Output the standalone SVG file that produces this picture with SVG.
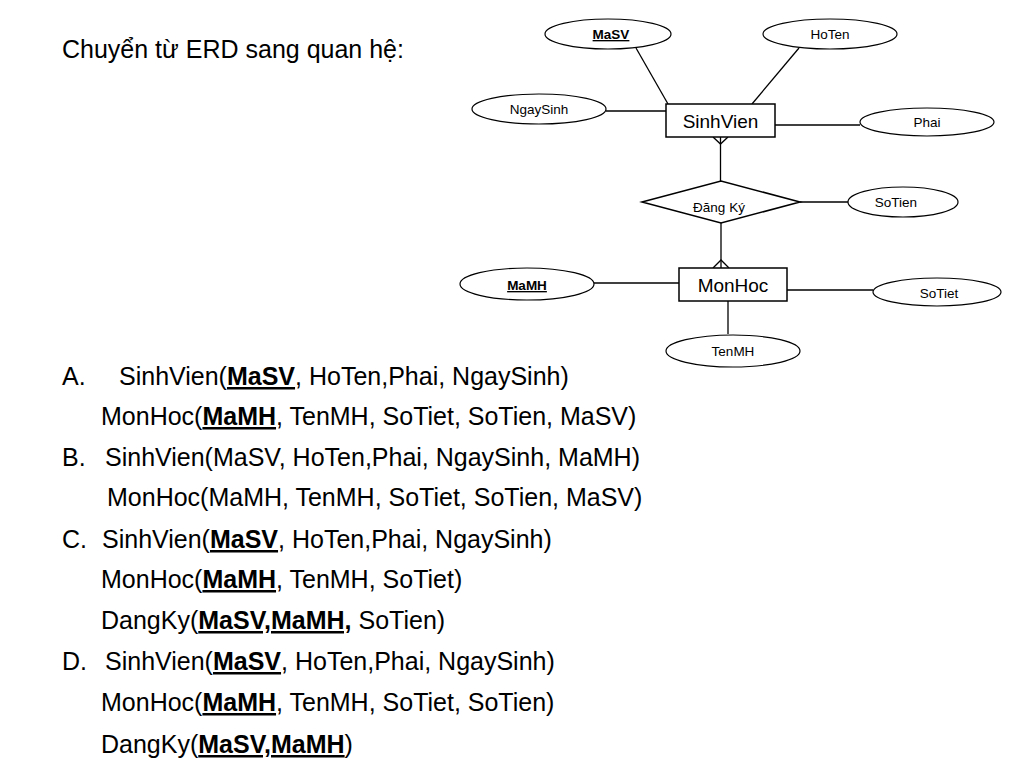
<svg xmlns="http://www.w3.org/2000/svg" width="1024" height="768" viewBox="0 0 1024 768">
<style>
.bg{fill:#fff}
.ln{stroke:#000;stroke-width:1.3;fill:none}
.ent{fill:#fff;stroke:#000;stroke-width:1.5}
.att{fill:#fff;stroke:#000;stroke-width:1.2}
.t{font-family:"Liberation Sans",Arial,sans-serif;fill:#000}
.big{font-size:25px}
.ent-t{font-size:19px;text-anchor:middle}
.att-t{font-size:13.5px;text-anchor:middle}
.key{font-weight:bold;text-decoration:underline}
</style>
<rect class="bg" width="1024" height="768"/>
<text class="t big" x="62" y="58">Chuyển từ ERD sang quan hệ:</text>

<g id="connectors">
<line class="ln" x1="636" y1="48" x2="668" y2="104"/>
<line class="ln" x1="799" y1="48" x2="752" y2="104"/>
<line class="ln" x1="606" y1="111" x2="666" y2="111"/>
<line class="ln" x1="775" y1="125" x2="860" y2="125"/>
<line class="ln" x1="720.5" y1="137" x2="720.5" y2="181"/>
<polyline class="ln" points="713,137 720.5,144 728,137"/>
<line class="ln" x1="800" y1="202" x2="848" y2="202"/>
<line class="ln" x1="721" y1="223" x2="721" y2="268"/>
<polyline class="ln" points="713,268 721,260 729,268"/>
<line class="ln" x1="594" y1="283" x2="679" y2="283"/>
<line class="ln" x1="787" y1="290" x2="873" y2="290"/>
<line class="ln" x1="728" y1="301" x2="728" y2="334"/>
</g>

<g id="SinhVien">
<rect class="ent" x="666" y="104" width="109" height="33"/>
<text class="t ent-t" x="720.5" y="128">SinhVien</text>
</g>
<g id="MonHoc">
<rect class="ent" x="679" y="268" width="108" height="33"/>
<text class="t ent-t" x="733" y="292">MonHoc</text>
</g>
<g id="DangKy">
<polygon class="ent" points="642,202 721,181 800,202 721,223"/>
<text class="t att-t" x="719" y="212">Đăng Ký</text>
</g>
<g id="MaSV">
<ellipse class="att" cx="608" cy="34" rx="63" ry="15"/>
<text class="t att-t key" x="611" y="39">MaSV</text>
</g>
<g id="HoTen">
<ellipse class="att" cx="830" cy="34" rx="67" ry="15"/>
<text class="t att-t" x="830" y="39">HoTen</text>
</g>
<g id="NgaySinh">
<ellipse class="att" cx="539" cy="109" rx="67" ry="15"/>
<text class="t att-t" x="539" y="114">NgaySinh</text>
</g>
<g id="Phai">
<ellipse class="att" cx="927" cy="122" rx="67" ry="14"/>
<text class="t att-t" x="927" y="127">Phai</text>
</g>
<g id="SoTien">
<ellipse class="att" cx="903" cy="202" rx="55" ry="15"/>
<text class="t att-t" x="896" y="207">SoTien</text>
</g>
<g id="MaMH">
<ellipse class="att" cx="527" cy="284" rx="67" ry="16"/>
<text class="t att-t key" x="527" y="290">MaMH</text>
</g>
<g id="SoTiet">
<ellipse class="att" cx="937" cy="292" rx="64" ry="14"/>
<text class="t att-t" x="939" y="298">SoTiet</text>
</g>
<g id="TenMH">
<ellipse class="att" cx="733" cy="351" rx="67" ry="16"/>
<text class="t att-t" x="733" y="356">TenMH</text>
</g>

<g id="answers" class="t big">
<text x="62" y="385">A.</text>
<text x="119" y="385">SinhVien(<tspan class="key">MaSV</tspan>, HoTen,Phai, NgaySinh)</text>
<text x="101" y="425">MonHoc(<tspan class="key">MaMH</tspan>, TenMH, SoTiet, SoTien, MaSV)</text>
<text x="62" y="466">B.</text>
<text x="105" y="466">SinhVien(MaSV, HoTen,Phai, NgaySinh, MaMH)</text>
<text x="107" y="506">MonHoc(MaMH, TenMH, SoTiet, SoTien, MaSV)</text>
<text x="62" y="548">C.</text>
<text x="102" y="548">SinhVien(<tspan class="key">MaSV</tspan>, HoTen,Phai, NgaySinh)</text>
<text x="101" y="588">MonHoc(<tspan class="key">MaMH</tspan>, TenMH, SoTiet)</text>
<text x="101" y="629">DangKy(<tspan class="key">MaSV,MaMH,</tspan> SoTien)</text>
<text x="62" y="670">D.</text>
<text x="105" y="670">SinhVien(<tspan class="key">MaSV</tspan>, HoTen,Phai, NgaySinh)</text>
<text x="101" y="711">MonHoc(<tspan class="key">MaMH</tspan>, TenMH, SoTiet, SoTien)</text>
<text x="101" y="753">DangKy(<tspan class="key">MaSV,MaMH</tspan>)</text>
</g>
</svg>
